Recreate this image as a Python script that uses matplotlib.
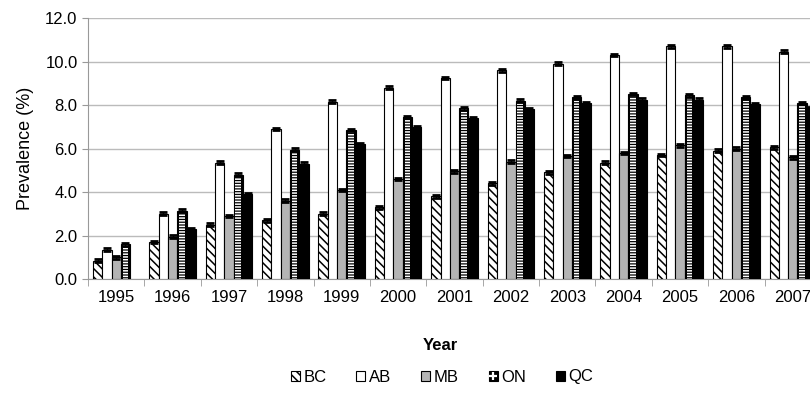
import matplotlib
matplotlib.use('Agg')
from matplotlib import pyplot as plt
from matplotlib.lines import Line2D
import numpy as np

plt.rcParams['font.family'] = ['Liberation Sans', 'DejaVu Sans']
plt.rcParams['hatch.linewidth'] = 1.1

years = ['1995', '1996', '1997', '1998', '1999', '2000', '2001',
         '2002', '2003', '2004', '2005', '2006', '2007']

bc = [0.85, 1.70, 2.50, 2.70, 3.00, 3.30, 3.80, 4.40, 4.90, 5.35, 5.70, 5.90, 6.05]
ab = [1.35, 3.00, 5.35, 6.90, 8.15, 8.80, 9.25, 9.60, 9.90, 10.30, 10.70, 10.70, 10.45]
mb = [1.00, 1.95, 2.90, 3.60, 4.10, 4.60, 4.95, 5.40, 5.65, 5.80, 6.15, 6.00, 5.60]
on = [1.60, 3.15, 4.80, 5.95, 6.85, 7.45, 7.85, 8.20, 8.35, 8.50, 8.45, 8.35, 8.10]
qc = [np.nan, 2.30, 3.90, 5.30, 6.20, 7.00, 7.40, 7.80, 8.10, 8.25, 8.25, 8.05, 7.85]

series = [('BC', bc, 'white', '\\\\\\\\'),
          ('AB', ab, 'white', ''),
          ('MB', mb, '#b4b4b4', ''),
          ('ON', on, 'black', ''),
          ('QC', qc, 'black', '')]

fig = plt.figure(figsize=(8.1, 3.93), dpi=100)
ax = fig.add_axes([0.1086, 0.29, 0.905, 0.664])

x = np.arange(len(years))
w = 0.165
handles = []
for k, (name, vals, col, hatch) in enumerate(series):
    pos = x + (k - 2) * w
    bars = ax.bar(pos, vals, width=w, color=col, edgecolor='black', linewidth=0.8,
                  hatch=hatch, zorder=3)
    if name == 'ON':
        # white dashes down the middle of the black bar
        ax.bar(pos, np.array(vals) - 0.05, width=w * 0.6, fill=False,
               edgecolor='white', linewidth=0, hatch='------', zorder=3.5)
        cross = Line2D([], [], marker='+', color='white', markersize=6,
                       markeredgewidth=1.6, linestyle='None')
        handles.append((bars, cross))
    else:
        handles.append(bars)
    ax.errorbar(pos, vals, yerr=0.06, fmt='none', ecolor='black',
                elinewidth=1.0, capsize=3, capthick=2, zorder=4)

ax.set_xlim(-0.5, len(years) - 0.5)
ax.set_ylim(0, 12)
ax.set_yticks(np.arange(0, 12.1, 2))
ax.set_yticklabels(['%.1f' % v for v in np.arange(0, 12.1, 2)])
ax.set_xticks(x)
ax.set_xticklabels(years)
ax.set_xticks(np.arange(-0.5, len(years), 1), minor=True)
ax.tick_params(axis='x', which='major', length=0, pad=8, labelsize=12)
ax.tick_params(axis='x', which='minor', length=5, color='#999999')
ax.tick_params(axis='y', length=4, color='#999999', labelsize=12)

ax.yaxis.grid(True, color='#bbbbbb', linewidth=1.0, zorder=0)
ax.spines['top'].set_visible(False)
ax.spines['right'].set_visible(False)
ax.spines['left'].set_color('#999999')
ax.spines['bottom'].set_color('#999999')

ax.set_ylabel('Prevalence (%)', fontsize=13, labelpad=8)
fig.text(440 / 810, 1 - 345 / 393, 'Year', ha='center', va='center',
         fontsize=12, fontweight='bold')

labels = [s[0] for s in series]
fig.legend(handles, labels, loc='center', bbox_to_anchor=(442 / 810, 1 - 377 / 393),
           ncol=5, frameon=False, fontsize=12, handlelength=0.55, handleheight=0.55,
           handletextpad=0.2, columnspacing=1.8)

fig.savefig('out.png', dpi=100)
